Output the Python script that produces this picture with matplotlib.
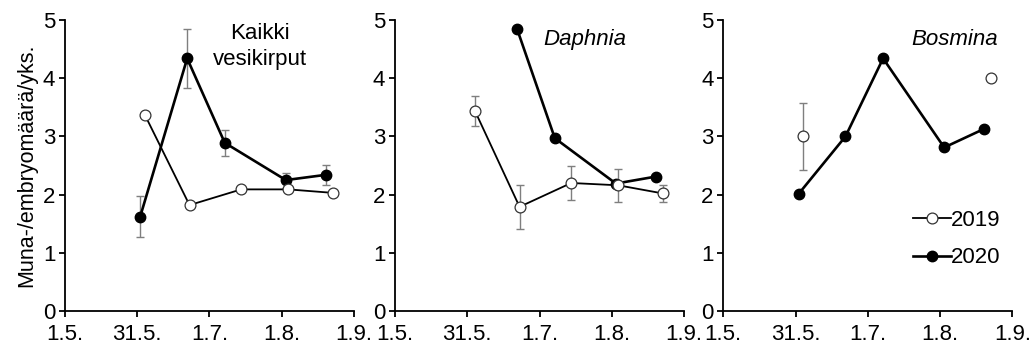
import matplotlib
matplotlib.use('Agg')
import matplotlib.pyplot as plt
import numpy as np

# ======================
# DATA
# ======================

# x positions as day of year (1.5. = 121, 1.9. = 244)
tick_days = [121, 151.75, 182.5, 213.25, 244]
tick_labels = ['1.5.', '31.5.', '1.7.', '1.8.', '1.9.']

days_2019 = [155, 174, 196, 216, 235]
days_2020 = [153, 173, 189, 215, 232]

nan = np.nan

# Kaikki vesikirput
all_2019 = [3.37, 1.82, 2.09, 2.09, 2.03]
all_2019_err = [nan, nan, nan, nan, nan]
all_2020 = [1.62, 4.34, 2.89, 2.25, 2.34]
all_2020_err = [0.35, 0.50, 0.22, 0.13, 0.17]

# Daphnia
daph_2019 = [3.44, 1.79, 2.20, 2.16, 2.02]
daph_2019_err = [0.26, 0.38, 0.29, 0.28, 0.14]
daph_2020 = [nan, 4.84, 2.97, 2.19, 2.31]
daph_2020_err = [nan, nan, nan, nan, nan]

# Bosmina
bosm_2019 = [3.00, nan, nan, nan, 4.01]
bosm_2019_err = [0.58, nan, nan, nan, nan]
bosm_2020 = [2.01, 3.00, 4.34, 2.81, 3.13]
bosm_2020_err = [nan, nan, nan, nan, nan]

panels = [
    ('Kaikki\nvesikirput', 'normal', all_2019, all_2019_err, all_2020, all_2020_err),
    ('Daphnia', 'italic', daph_2019, daph_2019_err, daph_2020, daph_2020_err),
    ('Bosmina', 'italic', bosm_2019, bosm_2019_err, bosm_2020, bosm_2020_err),
]

# ======================
# PLOT
# ======================

plt.rcParams['font.family'] = ['Liberation Sans', 'DejaVu Sans']
plt.rcParams['font.size'] = 15

fig = plt.figure(figsize=(10.33, 3.47), dpi=100)
lefts = [0.0629, 0.3824, 0.7002]
title_pos = [(0.675, 0.99), (0.657, 0.97), (0.80, 0.97)]

for i, (title, style, y19, e19, y20, e20) in enumerate(panels):
    ax = fig.add_axes([lefts[i], 0.1037, 0.2798, 0.8386])

    ax.errorbar(days_2019, y19, yerr=e19, fmt='none', ecolor='#7f7f7f',
                elinewidth=1, capsize=3, capthick=1, zorder=1)
    ax.errorbar(days_2020, y20, yerr=e20, fmt='none', ecolor='#7f7f7f',
                elinewidth=1, capsize=3, capthick=1, zorder=1)

    ax.plot(days_2020, y20, color='black', lw=1.9, marker='o', markersize=7.5,
            markerfacecolor='black', markeredgecolor='black', label='2020', zorder=3)
    ax.plot(days_2019, y19, color='black', lw=1.3, marker='o', markersize=7.8,
            markerfacecolor='white', markeredgecolor='#333333', markeredgewidth=0.9,
            label='2019', zorder=4)

    ax.set_xlim(121, 244)
    ax.set_ylim(0, 5)
    ax.set_xticks(tick_days)
    ax.set_xticklabels(tick_labels)
    ax.set_yticks([0, 1, 2, 3, 4, 5])
    ax.spines['top'].set_visible(False)
    ax.spines['right'].set_visible(False)
    ax.spines['left'].set_linewidth(1.3)
    ax.spines['bottom'].set_linewidth(1.3)
    ax.tick_params(direction='out', length=4, width=1.3, labelsize=16)
    ax.tick_params(axis='x', pad=5)
    ax.tick_params(axis='y', pad=3)

    ax.text(title_pos[i][0], title_pos[i][1], title, transform=ax.transAxes,
            ha='center', va='top', fontsize=16, fontstyle=style, linespacing=1.3)

    if i == 0:
        ax.set_ylabel('Muna-/embryomäärä/yks.', fontsize=15.5, labelpad=4)
    if i == 2:
        handles, labels = ax.get_legend_handles_labels()
        ax.legend(handles[::-1], labels[::-1], loc='center right',
                  bbox_to_anchor=(0.99, 0.247), frameon=False, handlelength=1.7,
                  handletextpad=0.0, labelspacing=0.75, fontsize=16, borderaxespad=0)

plt.savefig('out.png', dpi=100)
